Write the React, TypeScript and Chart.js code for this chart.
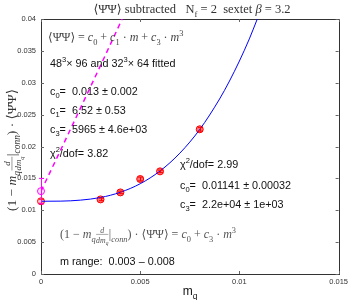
import React, { useEffect, useRef } from "react";
import { Chart, registerables } from "chart.js";

Chart.register(...registerables);

// Data points (m_q, <PbarP> subtracted)
const mq = [0.003, 0.004, 0.005, 0.006, 0.008];
const pbp = [0.0117, 0.0128, 0.0149, 0.0161, 0.0227];
const pbpErr = [0.0002, 0.0002, 0.0003, 0.0002, 0.0003];

// Extrapolated chiral values at m = 0
const extrapRedX = [0];
const extrapRedY = [0.01141];
const extrapRedErr = [0.00032];
const extrapMagX = [0];
const extrapMagY = [0.013];
const extrapMagErr = [0.002];

// Fit curves
const cubicX = [0, 0.001, 0.002, 0.003, 0.004, 0.005, 0.006, 0.007, 0.008, 0.009, 0.0095, 0.01, 0.0105, 0.0109];
const cubicY = [0.01141, 0.01143, 0.01159, 0.012, 0.01282, 0.01416, 0.01616, 0.01896, 0.02267, 0.02745, 0.03027, 0.03341, 0.03688, 0.04];
const linX = [0, 0.001, 0.002, 0.003, 0.004, 0.0041];
const linY = [0.013, 0.0195, 0.0261, 0.0327, 0.0394, 0.0401];

const xTicks = [0, 0.005, 0.01, 0.015];
const yTicks = [0, 0.005, 0.01, 0.015, 0.02, 0.025, 0.03, 0.035, 0.04];

type Part = { t?: string; sub?: boolean; sup?: boolean; it?: boolean; frac?: [Part[], Part[]] };

const SERIF = '"Liberation Serif", "DejaVu Serif", serif';
const SANS = '"Liberation Sans", Arial, sans-serif';

function fnt(size: number, fam: string, it?: boolean) {
  return `${it ? "italic " : ""}${size}px ${fam}`;
}

function measure(ctx: CanvasRenderingContext2D, parts: Part[], size: number, fam: string): number {
  let w = 0;
  for (const p of parts) {
    if (p.frac) {
      const a = measure(ctx, p.frac[0], size * 0.65, fam);
      const b = measure(ctx, p.frac[1], size * 0.65, fam);
      w += Math.max(a, b) + 1;
    } else {
      const s = p.sub || p.sup ? size * 0.7 : size;
      ctx.font = fnt(s, fam, p.it);
      w += ctx.measureText(p.t || "").width;
    }
  }
  return w;
}

function drawParts(ctx: CanvasRenderingContext2D, parts: Part[], x: number, y: number, size: number, fam: string) {
  let cx = x;
  for (const p of parts) {
    if (p.frac) {
      const s2 = size * 0.65;
      const a = measure(ctx, p.frac[0], s2, fam);
      const b = measure(ctx, p.frac[1], s2, fam);
      const w = Math.max(a, b);
      drawParts(ctx, p.frac[0], cx + (w - a) / 2 + 0.5, y - size * 0.42, s2, fam);
      drawParts(ctx, p.frac[1], cx + (w - b) / 2 + 0.5, y + size * 0.38, s2, fam);
      ctx.save();
      ctx.strokeStyle = ctx.fillStyle as string;
      ctx.lineWidth = 0.5;
      ctx.beginPath();
      ctx.moveTo(cx + 0.5, y - size * 0.3);
      ctx.lineTo(cx + w + 0.5, y - size * 0.3);
      ctx.stroke();
      ctx.restore();
      cx += w + 1;
    } else {
      const s = p.sub || p.sup ? size * 0.7 : size;
      ctx.font = fnt(s, fam, p.it);
      const dy = p.sub ? size * 0.3 : p.sup ? -size * 0.42 : 0;
      ctx.fillText(p.t || "", cx, y + dy);
      cx += ctx.measureText(p.t || "").width;
    }
  }
}

function rich(ctx: CanvasRenderingContext2D, parts: Part[], x: number, y: number, size: number, fam: string, color: string, align: "left" | "center" = "left") {
  ctx.save();
  ctx.fillStyle = color;
  ctx.textAlign = "left";
  ctx.textBaseline = "alphabetic";
  const w = measure(ctx, parts, size, fam);
  const sx = align === "center" ? x - w / 2 : x;
  drawParts(ctx, parts, sx, y, size, fam);
  ctx.restore();
}

const PB = "\u27E8\u03A8\u0304\u03A8\u27E9";
const derivLabel: Part[] = [
  { t: "(1 \u2212 " },
  { t: "m", it: true },
  { t: "q", it: true, sub: true },
  { frac: [[{ t: "d", it: true }], [{ t: "dm", it: true }, { t: "q", it: true, sub: true }]] },
  { t: "|" },
  { t: "conn", it: true, sub: true },
  { t: ") \u00B7 " + PB },
];

const decor = {
  id: "decor",
  beforeDatasetsDraw(chart: any) {
    const { ctx, chartArea: a, scales } = chart;
    ctx.save();
    ctx.strokeStyle = "#333";
    ctx.lineWidth = 1;
    ctx.strokeRect(Math.round(a.left) + 0.5, Math.round(a.top) + 0.5, Math.round(a.right - a.left), Math.round(a.bottom - a.top));
    ctx.strokeStyle = "#666";
    ctx.beginPath();
    for (const v of xTicks) {
      const px = Math.round(scales.x.getPixelForValue(v)) + 0.5;
      ctx.moveTo(px, a.bottom);
      ctx.lineTo(px, a.bottom - 3);
      ctx.moveTo(px, a.top);
      ctx.lineTo(px, a.top + 3);
    }
    for (const v of yTicks) {
      const py = Math.round(scales.y.getPixelForValue(v)) + 0.5;
      ctx.moveTo(a.left, py);
      ctx.lineTo(a.left + 3, py);
      ctx.moveTo(a.right, py);
      ctx.lineTo(a.right - 3, py);
    }
    ctx.stroke();
    ctx.restore();
  },
  afterDatasetsDraw(chart: any) {
    const { ctx, scales } = chart;
    const bars = (xs: number[], ys: number[], es: number[], color: string) => {
      ctx.save();
      ctx.strokeStyle = color;
      ctx.lineWidth = 1;
      ctx.beginPath();
      xs.forEach((xv, i) => {
        const px = Math.round(scales.x.getPixelForValue(xv)) + 0.5;
        const y1 = scales.y.getPixelForValue(ys[i] + es[i]);
        const y2 = scales.y.getPixelForValue(ys[i] - es[i]);
        ctx.moveTo(px, y1);
        ctx.lineTo(px, y2);
        ctx.moveTo(px - 2.5, y1);
        ctx.lineTo(px + 2.5, y1);
        ctx.moveTo(px - 2.5, y2);
        ctx.lineTo(px + 2.5, y2);
      });
      ctx.stroke();
      ctx.restore();
    };
    bars(mq, pbp, pbpErr, "#ff0000");
    bars(extrapRedX, extrapRedY, extrapRedErr, "#ff0000");
    bars(extrapMagX, extrapMagY, extrapMagErr, "#ff00ff");
  },
  afterDraw(chart: any) {
    const ctx = chart.ctx as CanvasRenderingContext2D;
    // title
    rich(ctx, [
      { t: PB + " subtracted   N" },
      { t: "f", sub: true },
      { t: " = 2  sextet " },
      { t: "\u03B2", it: true },
      { t: " = 3.2" },
    ], 192, 13, 12.5, SERIF, "#333", "center");
    // y label
    ctx.save();
    ctx.translate(16, 150);
    ctx.rotate(-Math.PI / 2);
    rich(ctx, derivLabel, 0, 0, 13.5, SERIF, "#333", "center");
    ctx.restore();
    // x label
    rich(ctx, [{ t: "m" }, { t: "q", sub: true }], 190, 295, 12, SANS, "#111", "center");

    const T = "#111";
    rich(ctx, [
      { t: PB + " = " }, { t: "c", it: true }, { t: "0", sub: true }, { t: " + " },
      { t: "c", it: true }, { t: "1", sub: true }, { t: " \u00B7 " }, { t: "m", it: true },
      { t: " + " }, { t: "c", it: true }, { t: "3", sub: true }, { t: " \u00B7 " },
      { t: "m", it: true }, { t: "3", sup: true },
    ], 48, 41, 12, SERIF, "#444");
    rich(ctx, [{ t: "48" }, { t: "3", sup: true }, { t: "\u00D7 96 and 32" }, { t: "3", sup: true }, { t: "\u00D7 64 fitted" }], 50, 67, 10.8, SANS, T);
    rich(ctx, [{ t: "c" }, { t: "0", sub: true }, { t: "=  0.013 \u00B1 0.002" }], 50, 95, 10.8, SANS, T);
    rich(ctx, [{ t: "c" }, { t: "1", sub: true }, { t: "=  6.52 \u00B1 0.53" }], 50, 114, 10.8, SANS, T);
    rich(ctx, [{ t: "c" }, { t: "3", sub: true }, { t: "=  5965 \u00B1 4.6e+03" }], 50, 133, 10.8, SANS, T);
    rich(ctx, [{ t: "\u03C7" }, { t: "2", sup: true }, { t: "/dof= 3.82" }], 50, 157, 10.8, SANS, T);

    rich(ctx, [{ t: "\u03C7" }, { t: "2", sup: true }, { t: "/dof= 2.99" }], 180, 168, 10.8, SANS, T);
    rich(ctx, [{ t: "c" }, { t: "0", sub: true }, { t: "=  0.01141 \u00B1 0.00032" }], 180, 189, 10.8, SANS, T);
    rich(ctx, [{ t: "c" }, { t: "3", sub: true }, { t: "=  2.2e+04 \u00B1 1e+03" }], 180, 208, 10.8, SANS, T);

    rich(ctx, [
      ...derivLabel,
      { t: " = " }, { t: "c", it: true }, { t: "0", sub: true }, { t: " + " },
      { t: "c", it: true }, { t: "3", sub: true }, { t: " \u00B7 " }, { t: "m", it: true }, { t: "3", sup: true },
    ], 60, 238, 12, SERIF, "#555");
    rich(ctx, [{ t: "m range:  0.003 \u2013 0.008" }], 60, 265, 10.8, SANS, T);
  },
};

const fmt = (v: any) => String(parseFloat(Number(v).toFixed(4)));

export default function App() {
  const ref = useRef<HTMLCanvasElement>(null);
  useEffect(() => {
    document.body.style.margin = "0";
    const chart = new Chart(ref.current!, {
      type: "scatter",
      data: {
        datasets: [
          {
            data: cubicX.map((x, i) => ({ x, y: cubicY[i] })),
            showLine: true,
            borderColor: "#0000ff",
            borderWidth: 1,
            pointRadius: 0,
            cubicInterpolationMode: "monotone",
          } as any,
          {
            data: linX.map((x, i) => ({ x, y: linY[i] })),
            showLine: true,
            borderColor: "#ff00ff",
            borderWidth: 1.5,
            borderDash: [5, 4],
            pointRadius: 0,
          } as any,
          {
            data: mq.map((x, i) => ({ x, y: pbp[i] })),
            pointRadius: 3.5,
            borderColor: "#ff0000",
            backgroundColor: "rgba(255,70,70,0.75)",
            borderWidth: 1,
            clip: false,
          } as any,
          {
            data: extrapRedX.map((x, i) => ({ x, y: extrapRedY[i] })),
            pointRadius: 3.5,
            borderColor: "#ff0000",
            backgroundColor: "rgba(255,70,70,0.3)",
            borderWidth: 1,
            clip: false,
          } as any,
          {
            data: extrapMagX.map((x, i) => ({ x, y: extrapMagY[i] })),
            pointRadius: 3.5,
            borderColor: "#ff00ff",
            backgroundColor: "rgba(255,0,255,0.1)",
            borderWidth: 1,
            clip: false,
          } as any,
        ],
      },
      options: {
        animation: false,
        responsive: false,
        devicePixelRatio: 1,
        layout: { padding: { top: 19, right: 11, left: 0, bottom: 0 } },
        plugins: { legend: { display: false }, tooltip: { enabled: false }, title: { display: false } },
        scales: {
          x: {
            type: "linear",
            min: 0,
            max: 0.015,
            afterFit: (s: any) => { s.height = 26; },
            afterBuildTicks: (s: any) => { s.ticks = xTicks.map((v) => ({ value: v })); },
            grid: { display: false, drawTicks: false },
            border: { display: false },
            ticks: { padding: 3, maxRotation: 0, autoSkip: false, color: "#333", font: { size: 7.5, family: SANS }, callback: fmt },
          },
          y: {
            type: "linear",
            min: 0,
            max: 0.04,
            afterFit: (s: any) => { s.width = 41; },
            afterBuildTicks: (s: any) => { s.ticks = yTicks.map((v) => ({ value: v })); },
            grid: { display: false, drawTicks: false },
            border: { display: false },
            ticks: { padding: 5, autoSkip: false, color: "#333", font: { size: 7.5, family: SANS }, callback: fmt },
          },
        },
      } as any,
      plugins: [decor],
    });
    return () => chart.destroy();
  }, []);
  return (
    <div style={{ position: "absolute", left: 0, top: 0, width: 351, height: 300, background: "#fff" }}>
      <canvas ref={ref} width={351} height={300} style={{ width: 351, height: 300, display: "block" }} />
    </div>
  );
}
